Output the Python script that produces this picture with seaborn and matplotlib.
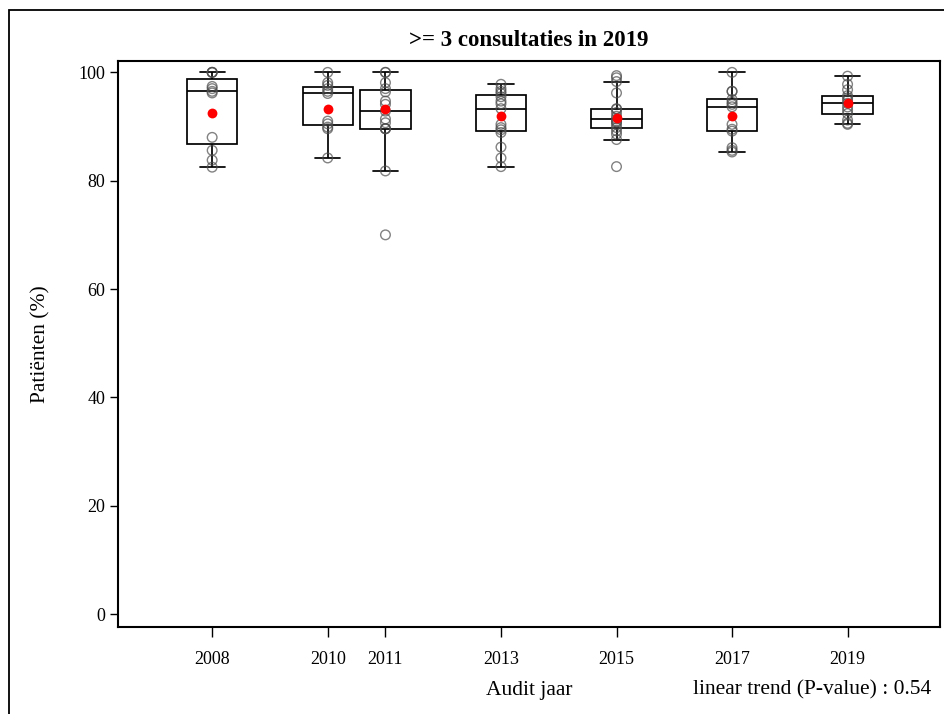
import matplotlib
matplotlib.use("Agg")
import matplotlib.pyplot as plt
from matplotlib.markers import MarkerStyle
from matplotlib.patches import Rectangle
import pandas as pd
import seaborn as sns

# Audit years and per-practice percentages of patients with >= 3 consultations
years = [2008, 2010, 2011, 2013, 2015, 2017, 2019]
pct_2008 = [82.5, 83.8, 85.6, 88.0, 96.2, 96.5, 97.0, 97.4, 100.0, 100.0, 100.0]
pct_2010 = [84.2, 89.6, 89.9, 90.5, 91.0, 96.1, 96.5, 97.0, 97.6, 98.1, 100.0]
pct_2011 = [70.0, 81.8, 89.6, 89.6, 89.6, 90.7, 91.4, 92.85, 94.1, 94.7,
            96.4, 97.0, 98.1, 100.0, 100.0]
pct_2013 = [82.6, 84.2, 86.2, 88.9, 89.4, 89.8, 90.4, 93.3, 94.2, 94.7,
            95.5, 96.1, 96.5, 97.0, 97.8]
pct_2015 = [82.6, 87.6, 88.6, 89.2, 89.8, 90.4, 90.8, 91.0, 91.4, 91.9,
            92.6, 93.2, 93.3, 96.2, 98.3, 99.0, 99.4]
pct_2017 = [85.3, 85.6, 86.1, 89.15, 89.5, 90.4, 93.65, 94.1, 94.5, 95.0,
            96.5, 96.5, 100.0]
pct_2019 = [90.4, 90.6, 91.2, 92.4, 93.0, 93.6, 94.3, 94.8, 95.3, 95.7,
            96.8, 97.8, 99.3]
# Overall (patient-weighted) mean per audit year
mean_pct = [92.5, 93.2, 93.2, 91.9, 91.6, 92.0, 94.3]

y_ticks = [0, 20, 40, 60, 80, 100]
title = ">= 3 consultaties in 2019"
x_label = "Audit jaar"
y_label = "Patiënten (%)"
trend_note = "linear trend (P-value) : 0.54"

per_year = [pct_2008, pct_2010, pct_2011, pct_2013, pct_2015, pct_2017, pct_2019]
df = pd.concat(
    [pd.DataFrame({"year": yr, "pct": vals}) for yr, vals in zip(years, per_year)],
    ignore_index=True,
)
means = pd.DataFrame({"year": years, "pct": mean_pct})

sns.set_theme(style="ticks")
plt.rcParams["font.family"] = ["Liberation Serif", "DejaVu Serif"]

W, H = 944, 714
fig = plt.figure(figsize=(W / 100, H / 100), dpi=100)
ax = fig.add_axes([118 / W, 1 - 627 / H, (940 - 118) / W, (627 - 61) / H])

sns.boxplot(
    data=df, x="year", y="pct", orient="x", native_scale=True, width=0.87,
    color="white", linecolor="black", linewidth=1.25, showfliers=False,
    whis=1.5, ax=ax,
)
sns.scatterplot(
    data=df, x="year", y="pct", marker=MarkerStyle("o", fillstyle="none"),
    color="#4d4d4d", alpha=0.7, s=48, linewidth=1.0, ax=ax, legend=False,
    zorder=4,
)
sns.scatterplot(
    data=means, x="year", y="pct", color="red", s=50, linewidth=0,
    ax=ax, legend=False, zorder=5,
)

ax.set_xlim(2006.37, 2020.6)
ax.set_ylim(-2.4, 102.1)
ax.set_xticks(years)
ax.set_xticklabels([str(y) for y in years])
ax.set_yticks(y_ticks)
ax.set_yticklabels([str(v) for v in y_ticks])
ax.tick_params(axis="both", which="major", direction="out", width=1.0,
               color="black", labelsize=13, labelcolor="black",
               bottom=True, left=True)
ax.tick_params(axis="x", length=7, pad=10)
ax.tick_params(axis="y", length=6, pad=3)
for side in ["left", "right", "top", "bottom"]:
    ax.spines[side].set_visible(True)
    ax.spines[side].set_color("black")
    ax.spines[side].set_linewidth(1.5)

ax.set_xlabel("")
ax.set_ylabel(y_label, fontsize=15.5, color="black")
ax.yaxis.set_label_coords(-0.082, 0.5)
ax.set_title(title, fontsize=16.5, fontweight="bold", color="black", pad=11)

fig.text(529 / W, 1 - 690 / H, x_label, ha="center", va="center",
         fontsize=15.5, color="black")
fig.text(931 / W, 1 - 690 / H, trend_note, ha="right", va="center",
         fontsize=15.5, color="black")

# Outer frame around the graph area
fig.add_artist(Rectangle((9 / W, -0.5), 2.0, 0.5 + (H - 10) / H,
                         transform=fig.transFigure, fill=False,
                         lw=1.3, ec="black"))

fig.savefig("out.png", dpi=100)
